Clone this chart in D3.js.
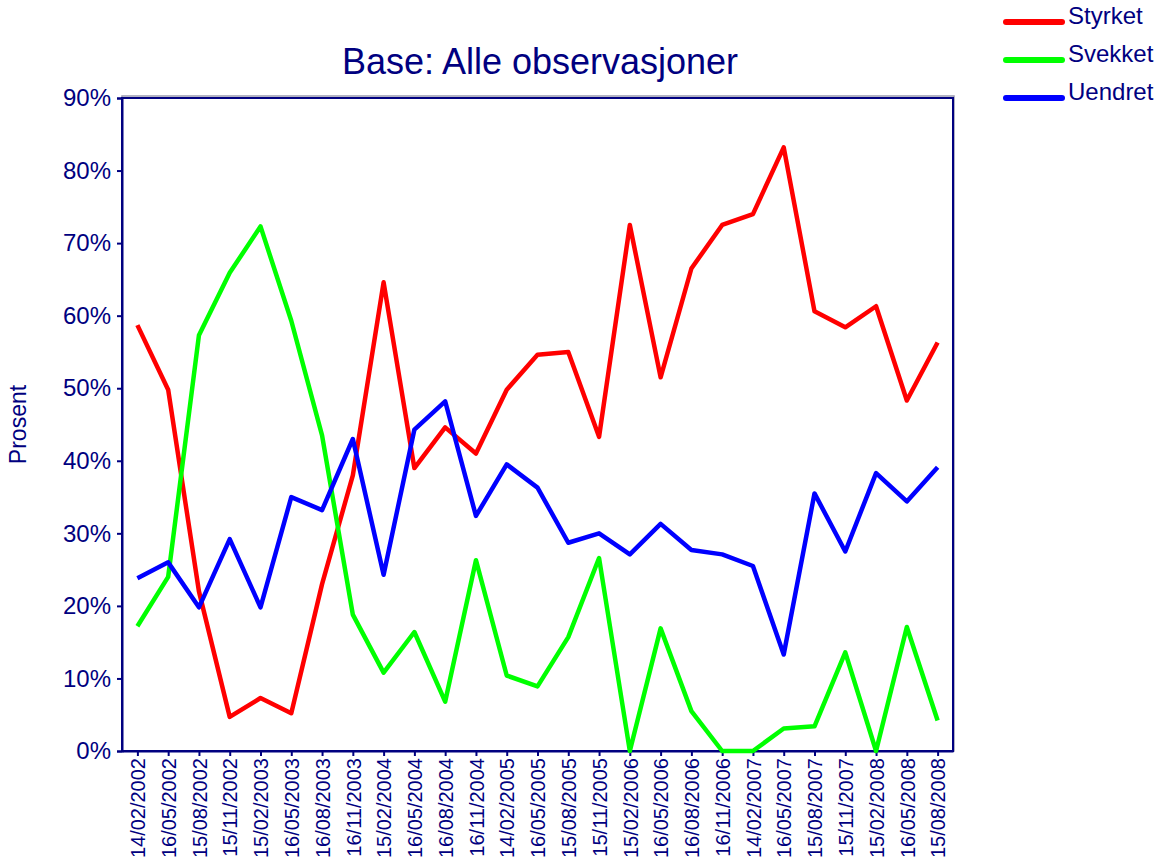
<!DOCTYPE html>
<html>
<head>
<meta charset="utf-8">
<script src="https://cdn.jsdelivr.net/npm/d3@7"></script>
<style>
  body { margin: 0; background: #fff; }
  text { font-family: "Liberation Sans", Arial, sans-serif; fill: #000080; }
</style>
</head>
<body>
<svg id="chart" width="1156" height="860"></svg>
<script>
const dates = ["14/02/2002","16/05/2002","15/08/2002","15/11/2002","15/02/2003","16/05/2003","16/08/2003","16/11/2003",
  "15/02/2004","16/05/2004","16/08/2004","16/11/2004","14/02/2005","16/05/2005","15/08/2005","15/11/2005",
  "15/02/2006","16/05/2006","16/08/2006","16/11/2006","14/02/2007","16/05/2007","15/08/2007","15/11/2007",
  "15/02/2008","16/05/2008","15/08/2008"];

const styrket = [58.7,49.8,22,4.7,7.3,5.2,23,38,64.6,39,44.6,41,49.8,54.6,55,43.3,72.5,51.5,66.5,72.5,74,83.2,60.6,58.4,61.3,48.3,56.3];
const svekket = [17.2,24,57.3,65.9,72.3,59.3,43.5,18.8,10.8,16.4,6.8,26.3,10.4,8.9,15.7,26.6,0,16.9,5.5,0,0,3.1,3.4,13.6,0,17.1,4.2];
const uendret = [23.8,26,19.8,29.2,19.8,35,33.2,43,24.3,44.3,48.2,32.4,39.5,36.3,28.7,30,27.1,31.3,27.7,27.1,25.5,13.3,35.5,27.5,38.3,34.4,39.1];

const seriesNames = ["Styrket", "Svekket", "Uendret"];
const seriesColors = ["#ff0000", "#00ff00", "#0000ff"];
const yTicks = [0,10,20,30,40,50,60,70,80,90];

const navy = "#000080";
const svg = d3.select("#chart");
const plot = {left: 122, top: 98, right: 953, bottom: 751};

const x = d3.scalePoint().domain(dates).range([plot.left, plot.right]).padding(0.5);
const y = d3.scaleLinear().domain([0, 90]).range([plot.bottom, plot.top]);

// title
svg.append("text")
  .attr("x", 540).attr("y", 74)
  .attr("text-anchor", "middle")
  .style("font-size", "36px")
  .text("Base: Alle observasjoner");

// y axis label
svg.append("text")
  .attr("transform", `translate(26,${(plot.top + plot.bottom) / 2}) rotate(-90)`)
  .attr("text-anchor", "middle")
  .style("font-size", "23px")
  .text("Prosent");

// plot border (grey shadow + navy frame)
svg.append("rect")
  .attr("x", plot.left).attr("y", plot.top - 2)
  .attr("width", plot.right - plot.left + 1).attr("height", plot.bottom - plot.top + 2)
  .attr("fill", "none").attr("stroke", "#9a9ab0").attr("stroke-width", 1.5);
svg.append("rect")
  .attr("x", plot.left).attr("y", plot.top)
  .attr("width", plot.right - plot.left).attr("height", plot.bottom - plot.top)
  .attr("fill", "none").attr("stroke", navy).attr("stroke-width", 2);

// y axis
const yAxis = svg.append("g")
  .attr("transform", `translate(${plot.left},0)`)
  .call(d3.axisLeft(y).tickValues(yTicks).tickSize(5).tickPadding(6).tickFormat(d => d + "%"));
yAxis.select(".domain").attr("stroke", navy).attr("stroke-width", 2);
yAxis.selectAll(".tick line").attr("stroke", navy).attr("stroke-width", 2);
yAxis.selectAll(".tick text").attr("fill", navy).style("font-size", "24px")
  .style("font-family", "Liberation Sans, Arial, sans-serif");

// x axis
const xAxis = svg.append("g")
  .attr("transform", `translate(0,${plot.bottom})`)
  .call(d3.axisBottom(x).tickSize(5).tickSizeOuter(0));
xAxis.select(".domain").attr("stroke", navy).attr("stroke-width", 2);
xAxis.selectAll(".tick line").attr("stroke", navy).attr("stroke-width", 2);
xAxis.selectAll(".tick text")
  .attr("fill", navy)
  .style("font-size", "20px")
  .style("font-family", "Liberation Sans, Arial, sans-serif")
  .attr("text-anchor", "end")
  .attr("transform", "rotate(-90)")
  .attr("x", -7).attr("y", 0).attr("dy", "0.36em");

// lines
const line = d3.line().x((d, i) => x(dates[i])).y(d => y(d));
const allSeries = [styrket, svekket, uendret];
svg.append("g").selectAll("path")
  .data(allSeries).enter()
  .append("path")
  .attr("d", line)
  .attr("fill", "none")
  .attr("stroke", (d, i) => seriesColors[i])
  .attr("stroke-width", 4.5)
  .attr("stroke-linejoin", "round");

// legend
const legend = svg.append("g").selectAll("g")
  .data(seriesNames).enter()
  .append("g")
  .attr("transform", (d, i) => `translate(1006,${22 + i * 38})`);
legend.append("line")
  .attr("x1", 0).attr("x2", 56)
  .attr("stroke", (d, i) => seriesColors[i])
  .attr("stroke-width", 6).attr("stroke-linecap", "round");
legend.append("text")
  .attr("x", 62).attr("dy", "0.1em")
  .style("font-size", "24px")
  .text(d => d);
</script>
</body>
</html>
